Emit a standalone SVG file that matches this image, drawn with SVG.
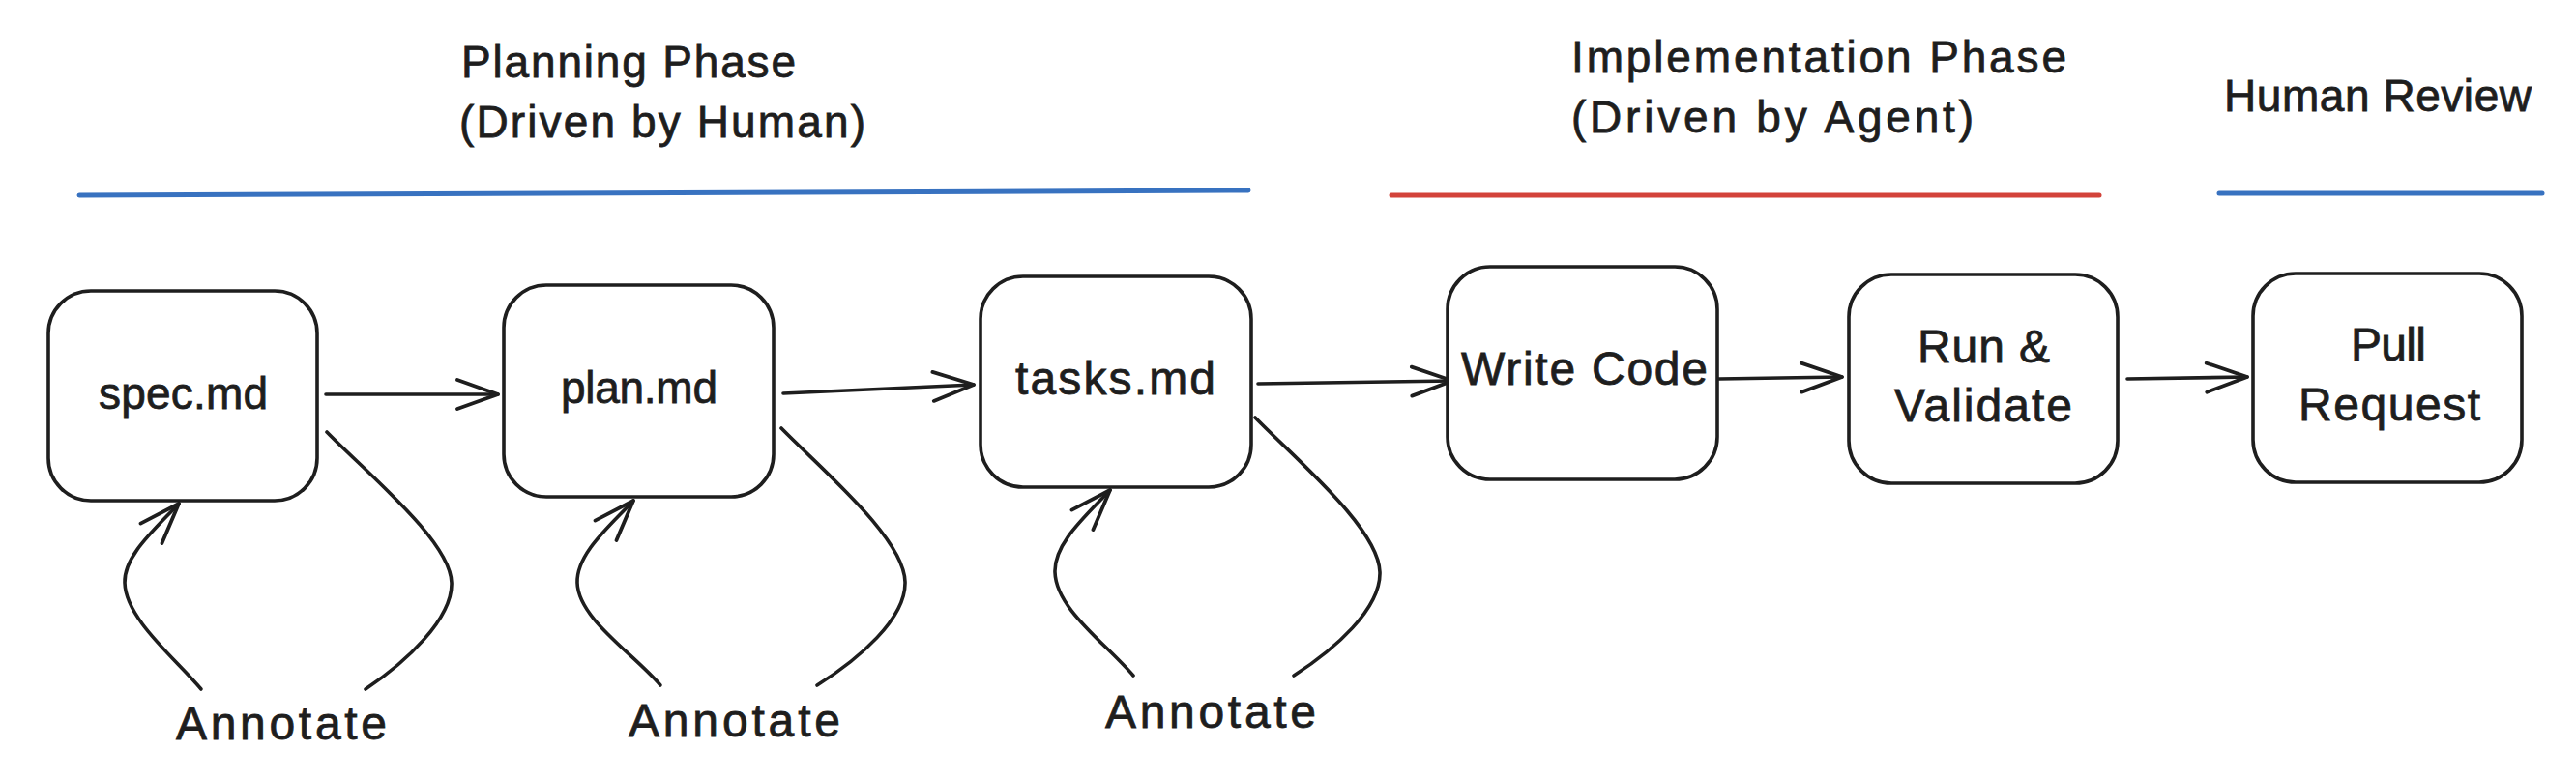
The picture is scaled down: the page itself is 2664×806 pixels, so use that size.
<svg xmlns="http://www.w3.org/2000/svg" width="2664" height="806" viewBox="0 0 2664 806">
  <defs>
    <marker id="head" markerUnits="userSpaceOnUse" markerWidth="60" markerHeight="60" viewBox="-50 -30 60 60" refX="0" refY="0" orient="auto" overflow="visible">
      <path d="M-42,-15 L0,0 L-42,15" fill="none" stroke="#1e1e1e" stroke-width="3.8" stroke-linecap="round" stroke-linejoin="round"/>
    </marker>
  </defs>
  <style>
    .box { fill: #ffffff; stroke: #1e1e1e; stroke-width: 3.6; }
    .txt { font-family: "Liberation Sans", Arial, sans-serif; fill: #1e1e1e; stroke: #1e1e1e; stroke-width: 0.8; font-size: 46px; }
    .node { font-size: 48px; }
    .ann { font-size: 48px; }
    .conn { fill: none; stroke: #1e1e1e; stroke-width: 3.6; stroke-linecap: round; }
    .arrow { marker-end: url(#head); }
    .bar { fill: none; stroke-width: 5; stroke-linecap: round; }
  </style>
  <rect width="2664" height="806" fill="#ffffff"/>

  <g id="headings">
    <text class="txt" x="477" y="80" textLength="346">Planning Phase</text>
    <text class="txt" x="475" y="142" textLength="420">(Driven by Human)</text>
    <text class="txt" x="1625" y="75" textLength="512">Implementation Phase</text>
    <text class="txt" x="1625" y="137" textLength="416">(Driven by Agent)</text>
    <text class="txt" x="2300" y="115" textLength="318">Human Review</text>
    <path class="bar" stroke="#3872c0" d="M82,202 L1291,197"/>
    <path class="bar" stroke="#d3433a" d="M1439,202 L2171,202"/>
    <path class="bar" stroke="#3872c0" d="M2295,200 L2629,200"/>
  </g>

  <g id="connectors">
    <path class="conn arrow" d="M337,408 L515,408"/>
    <path class="conn arrow" d="M810,407 L1007,398"/>
    <path class="conn arrow" d="M1301,397 L1502,394"/>
    <path class="conn arrow" d="M1776,392 L1905,390"/>
    <path class="conn arrow" d="M2200,392 L2324,390"/>

    <path class="conn arrow" d="M208,713 C180,680 130,640 129,603 C128,575 160,548 185,521"/>
    <path class="conn" d="M338,447 C380,490 466,560 467,603 C468,640 420,685 378,713"/>

    <path class="conn arrow" d="M683,709 C655,676 598,640 597,603 C596,573 630,545 655,518"/>
    <path class="conn" d="M808,443 C850,486 935,557 936,602 C937,640 888,682 845,709"/>

    <path class="conn arrow" d="M1172,699 C1144,666 1092,630 1091,592 C1090,562 1123,534 1148,507"/>
    <path class="conn" d="M1298,432 C1340,475 1426,547 1427,592 C1428,630 1380,672 1338,699"/>
  </g>

  <g id="spec">
    <rect class="box" x="50" y="301" width="278" height="217" rx="44"/>
    <text class="txt" x="102" y="423" textLength="175">spec.md</text>
  </g>
  <g id="plan">
    <rect class="box" x="521" y="295" width="279" height="219" rx="44"/>
    <text class="txt" x="580" y="417" textLength="162">plan.md</text>
  </g>
  <g id="tasks">
    <rect class="box" x="1014" y="286" width="280" height="218" rx="44"/>
    <text class="txt node" x="1050" y="408" textLength="207">tasks.md</text>
  </g>
  <g id="write">
    <rect class="box" x="1497" y="276" width="279" height="220" rx="44"/>
    <text class="txt node" x="1511" y="398" textLength="255">Write Code</text>
  </g>
  <g id="run">
    <rect class="box" x="1912" y="284" width="278" height="216" rx="44"/>
    <text class="txt node" x="1983" y="375" textLength="137">Run &amp;</text>
    <text class="txt node" x="1959" y="436" textLength="184">Validate</text>
  </g>
  <g id="pr">
    <rect class="box" x="2330" y="283" width="278" height="216" rx="44"/>
    <text class="txt node" x="2431" y="373" textLength="78">Pull</text>
    <text class="txt node" x="2377" y="435" textLength="188">Request</text>
  </g>

  <g id="annotate1">
    <text class="txt ann" x="182" y="765" textLength="218">Annotate</text>
  </g>
  <g id="annotate2">
    <text class="txt ann" x="650" y="762" textLength="219">Annotate</text>
  </g>
  <g id="annotate3">
    <text class="txt ann" x="1143" y="753" textLength="218">Annotate</text>
  </g>
</svg>
